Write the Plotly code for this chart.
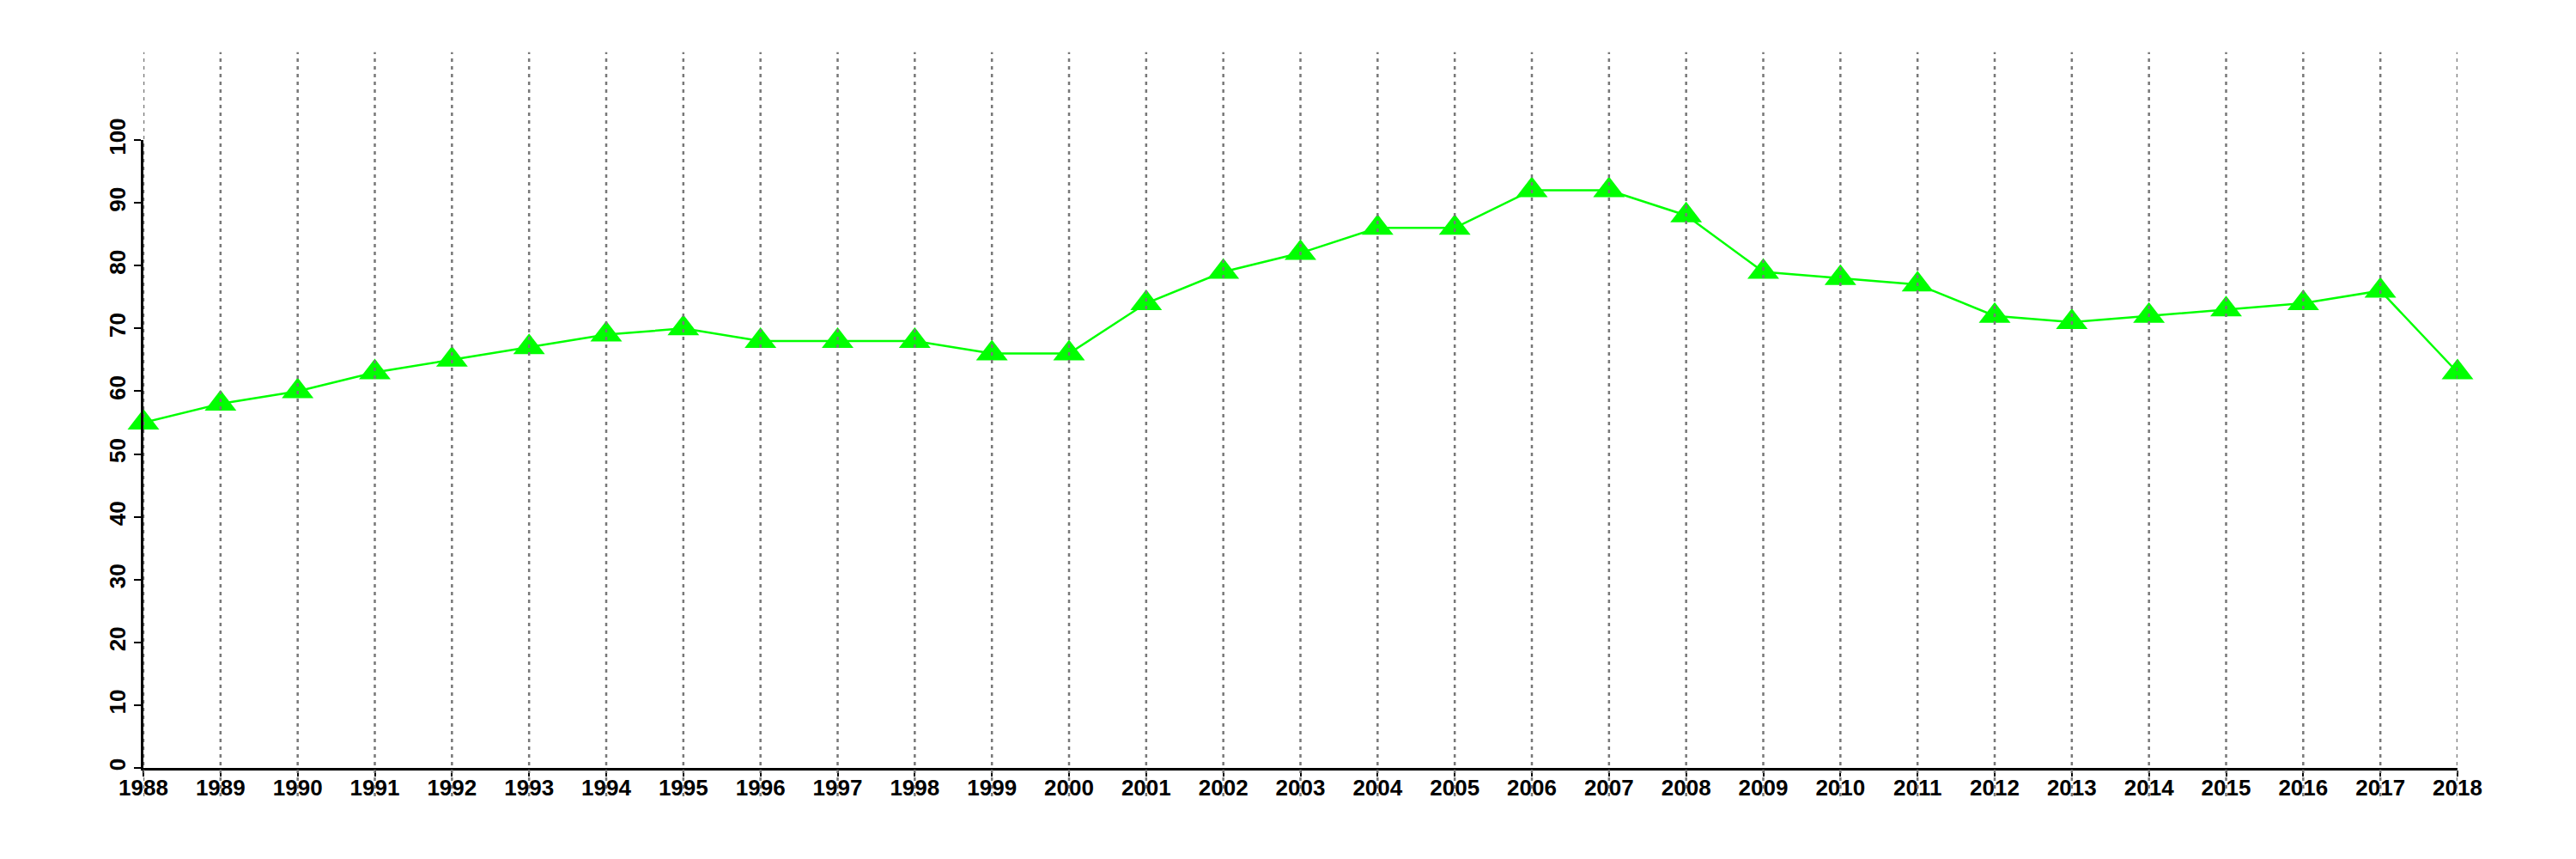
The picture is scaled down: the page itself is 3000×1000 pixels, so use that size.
import plotly.graph_objects as go

years = list(range(1988, 2019))
values = [55, 58, 60, 63, 65, 67, 69, 70, 68, 68, 68, 66, 66, 74, 79, 82, 86, 86,
          92, 92, 88, 79, 78, 77, 72, 71, 72, 73, 74, 76, 63]
y_ticks = list(range(0, 101, 10))

fig = go.Figure()
fig.add_trace(go.Scatter(
    x=years, y=values, mode="lines+markers",
    line=dict(color="#00FF00", width=2.5),
    marker=dict(symbol="triangle-up", size=32, color="#00FF00"),
    cliponaxis=False, showlegend=False,
))

# vertical dotted guide lines extending beyond the plotting area
for yr in years:
    fig.add_shape(type="line", xref="x", yref="paper", x0=yr, x1=yr, y0=-0.045, y1=1.14,
                  line=dict(color="#787878", width=2.5, dash="4px,5px"), layer="above")

font = dict(family="Liberation Sans, Arial, sans-serif", size=26, color="black", weight="bold")
fig.update_layout(
    width=2984, height=984,
    plot_bgcolor="white", paper_bgcolor="white",
    margin=dict(l=159, r=130, t=155, b=98),
    xaxis=dict(range=[1988, 2018], tickvals=years, ticktext=[str(y) for y in years],
               showgrid=False, zeroline=False, showline=True, linecolor="black", linewidth=2.5,
               ticks="outside", ticklen=7, tickwidth=2, tickcolor="black", tickfont=font,
               ticklabelstandoff=-9, automargin=False),
    yaxis=dict(range=[0, 100], tickvals=y_ticks, showgrid=False, zeroline=False,
               showline=True, linecolor="black", linewidth=2.5,
               ticks="outside", ticklen=8, tickwidth=2, tickcolor="black",
               tickangle=-90, tickfont=font, automargin=False),
)
fig.write_html("out.html")
